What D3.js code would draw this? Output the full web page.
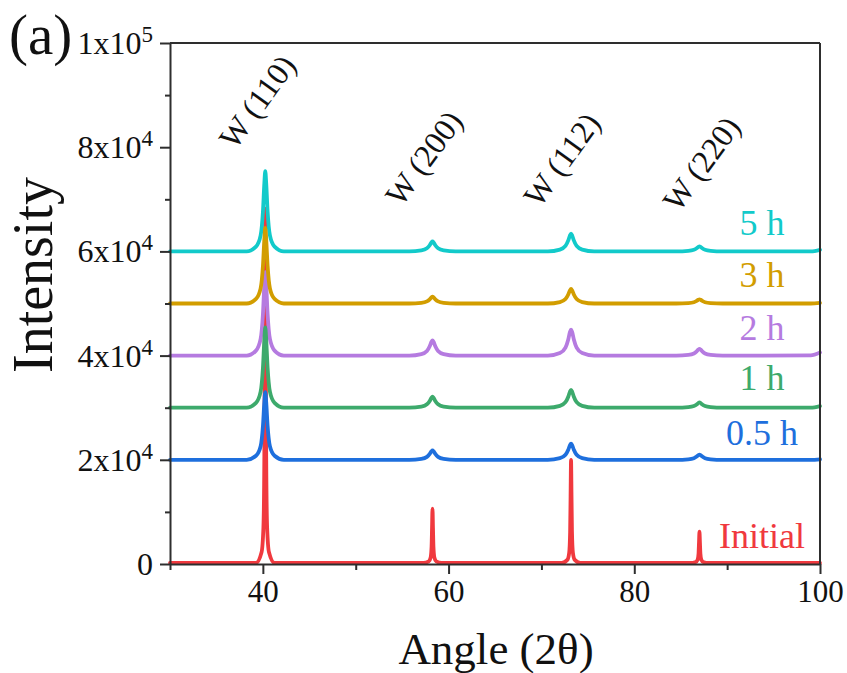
<!DOCTYPE html>
<html>
<head>
<meta charset="utf-8">
<script src="https://cdn.jsdelivr.net/npm/d3@7/dist/d3.min.js"></script>
<style>
  html, body { margin: 0; padding: 0; background: #ffffff; }
  svg { display: block; }
  text { font-family: "Liberation Serif", "Times New Roman", serif; }
</style>
</head>
<body>
<svg id="chart" width="847" height="673"></svg>
<script>
// ---- XRD patterns of W powder vs. milling time ----

// Shared 2θ sample positions for the milled patterns
const milledAngles = [
  30,
  38.26, 39.26, 39.76, 40.01, 40.16, 40.26, 40.36, 40.51, 40.76, 41.26, 42.26,
  55.77, 57.07, 57.67, 57.97, 58.15, 58.27, 58.39, 58.57, 58.87, 59.47, 60.77,
  70.69, 71.99, 72.59, 72.89, 73.07, 73.19, 73.31, 73.49, 73.79, 74.39, 75.69,
  84.52, 85.82, 86.42, 86.72, 86.90, 87.02, 87.14, 87.32, 87.62, 88.22, 89.52,
  99, 100
];

// Intensities (stacked, with vertical offsets already included)
const intensity5h = [
  60000,
  60000, 60920, 63080, 67700, 73090, 75400, 73090, 67700, 63080, 60920, 60000,
  60000, 60190, 60590, 61180, 61710, 61900, 61710, 61180, 60590, 60190, 60000,
  60000, 60340, 61050, 62110, 63060, 63400, 63060, 62110, 61050, 60340, 60000,
  60000, 60100, 60300, 60590, 60860, 60950, 60860, 60590, 60300, 60100, 60000,
  60000, 60300
];
const intensity3h = [
  50000,
  50000, 50870, 52900, 57250, 62330, 64500, 62330, 57250, 52900, 50870, 50000,
  50000, 50130, 50400, 50810, 51170, 51300, 51170, 50810, 50400, 50130, 50000,
  50000, 50280, 50870, 51740, 52520, 52800, 52520, 51740, 50870, 50280, 50000,
  50000, 50080, 50250, 50500, 50720, 50800, 50720, 50500, 50250, 50080, 50000,
  50000, 50100
];
const intensity2h = [
  40000,
  40000, 40960, 43200, 48000, 53600, 56000, 53600, 48000, 43200, 40960, 40000,
  40000, 40290, 40900, 41800, 42610, 42900, 42610, 41800, 40900, 40290, 40000,
  40000, 40500, 41550, 43100, 44500, 45000, 44500, 43100, 41550, 40500, 40000,
  40000, 40130, 40400, 40810, 41170, 41300, 41170, 40810, 40400, 40130, 40000,
  40050, 40600
];
const intensity1h = [
  30000,
  30000, 30920, 33080, 37700, 43090, 45400, 43090, 37700, 33080, 30920, 30000,
  30000, 30210, 30650, 31300, 31890, 32100, 31890, 31300, 30650, 30210, 30000,
  30000, 30340, 31050, 32110, 33060, 33400, 33060, 32110, 31050, 30340, 30000,
  30000, 30100, 30310, 30620, 30900, 31000, 30900, 30620, 30310, 30100, 30000,
  30000, 30300
];
const intensity05h = [
  20000,
  20000, 20780, 22600, 26500, 31050, 33000, 31050, 26500, 22600, 20780, 20000,
  20000, 20180, 20560, 21120, 21620, 21800, 21620, 21120, 20560, 20180, 20000,
  20000, 20310, 20960, 21920, 22790, 23100, 22790, 21920, 20960, 20310, 20000,
  20000, 20100, 20310, 20620, 20900, 21000, 20900, 20620, 20310, 20100, 20000,
  20000, 20100
];

// Initial (unmilled) powder: sharp reflections
const initialAngles = [
  30,
  39.26, 39.86, 40.06, 40.16, 40.21, 40.26, 40.31, 40.36, 40.46, 40.66, 41.26,
  57.27, 57.87, 58.07, 58.17, 58.22, 58.27, 58.32, 58.37, 58.47, 58.67, 59.27,
  72.19, 72.79, 72.99, 73.09, 73.14, 73.19, 73.24, 73.29, 73.39, 73.59, 74.19,
  86.02, 86.62, 86.82, 86.92, 86.97, 87.02, 87.07, 87.12, 87.22, 87.42, 88.02,
  100
];
const intensityInitial = [
  200,
  200, 2240, 7000, 20600, 44400, 68200, 44400, 20600, 7000, 2240, 200,
  200, 510, 1240, 3320, 6960, 10600, 6960, 3320, 1240, 510, 200,
  200, 790, 2180, 6140, 13070, 20000, 13070, 6140, 2180, 790, 200,
  200, 380, 800, 2000, 4100, 6200, 4100, 2000, 800, 380, 200,
  200
];

// Series in drawing order (first = bottom layer), colours and label anchors
const seriesNames   = ["Initial", "5 h", "2 h", "3 h", "1 h", "0.5 h"];
const seriesColors  = ["#F0393E", "#12CACA", "#B57BE0", "#D29D00", "#3DAA6C", "#1E6FDD"];
const labelAngle    = 93.75;
const labelLevels   = [3070, 63150, 43000, 53170, 33400, 22840];

// Reflection labels
const hklLabels  = ["W (110)", "W (200)", "W (112)", "W (220)"];
const hklAngles  = [37.0, 54.9, 69.8, 84.8];
const hklLevels  = [79300, 68400, 68200, 67300];

// Axis ticks
const xMajorTicks = [40, 60, 80, 100];
const xMinorTicks = [30, 50, 70, 90];
const yMajorTicks = [0, 20000, 40000, 60000, 80000, 100000];
const yMinorTicks = [10000, 30000, 50000, 70000, 90000];
const yTickLabels = ["0", "2x10^4", "4x10^4", "6x10^4", "8x10^4", "1x10^5"];

const seriesX = [initialAngles, milledAngles, milledAngles, milledAngles, milledAngles, milledAngles];
const seriesY = [intensityInitial, intensity5h, intensity2h, intensity3h, intensity1h, intensity05h];

const svg = d3.select("#chart");
const x = d3.scaleLinear().domain([30, 100]).range([170, 820]);
const y = d3.scaleLinear().domain([0, 100000]).range([564, 43]);
const axisColor = "#2e2e2e";

// Traces
const line = d3.line()
  .x(d => x(d[0]))
  .y(d => y(d[1]))
  .curve(d3.curveMonotoneX);

seriesNames.forEach((name, i) => {
  const pts = seriesX[i].map((a, k) => [a, seriesY[i][k]]);
  svg.append("path")
    .datum(pts)
    .attr("d", line)
    .attr("fill", "none")
    .attr("stroke", seriesColors[i])
    .attr("stroke-width", 3.8)
    .attr("stroke-linejoin", "round")
    .attr("stroke-linecap", "round");
});

// Frame: top and right border
svg.append("line").attr("x1", x(30)).attr("x2", x(100)).attr("y1", y(100000)).attr("y2", y(100000))
  .attr("stroke", axisColor).attr("stroke-width", 2);
svg.append("line").attr("x1", x(100)).attr("x2", x(100)).attr("y1", y(100000)).attr("y2", y(0))
  .attr("stroke", axisColor).attr("stroke-width", 2);

// Bottom axis
const xAxis = svg.append("g").attr("transform", `translate(0,${y(0)})`)
  .call(d3.axisBottom(x).tickValues(xMajorTicks).tickSize(10).tickSizeOuter(0).tickPadding(6).tickFormat(d3.format("d")));
svg.append("g").attr("transform", `translate(0,${y(0)})`)
  .call(d3.axisBottom(x).tickValues(xMinorTicks).tickSize(6).tickSizeOuter(0).tickFormat(""))
  .select(".domain").remove();

// Left axis
svg.append("g").attr("transform", `translate(${x(30)},0)`)
  .call(d3.axisLeft(y).tickValues(yMajorTicks).tickSize(10).tickSizeOuter(0).tickFormat(""));
svg.append("g").attr("transform", `translate(${x(30)},0)`)
  .call(d3.axisLeft(y).tickValues(yMinorTicks).tickSize(5).tickSizeOuter(0).tickFormat(""))
  .select(".domain").remove();

svg.selectAll(".domain, .tick line").attr("stroke", axisColor).attr("stroke-width", 2);
xAxis.selectAll(".tick text")
  .attr("font-size", 31)
  .attr("fill", "#111");

// Y tick labels with superscript exponents
yMajorTicks.forEach((v, i) => {
  const parts = yTickLabels[i].split("^");
  const t = svg.append("text")
    .attr("x", 153)
    .attr("y", y(v) + 11)
    .attr("text-anchor", "end")
    .attr("font-size", 32)
    .attr("fill", "#111");
  t.append("tspan").text(parts[0]);
  if (parts.length > 1) {
    t.append("tspan").attr("font-size", 23).attr("dy", -12).text(parts[1]);
  }
});

// Axis titles
svg.append("text")
  .attr("x", 496).attr("y", 664)
  .attr("text-anchor", "middle")
  .attr("font-size", 45)
  .attr("fill", "#111")
  .text("Angle (2θ)");
svg.append("text")
  .attr("transform", "translate(52,275) rotate(-90)")
  .attr("text-anchor", "middle")
  .attr("font-size", 56)
  .attr("fill", "#111")
  .text("Intensity");

// Panel tag
svg.append("text")
  .attr("x", 9).attr("y", 54)
  .attr("font-size", 57)
  .attr("fill", "#111")
  .text("(a)");

// Reflection labels
hklLabels.forEach((lab, i) => {
  svg.append("text")
    .attr("transform", `translate(${x(hklAngles[i])},${y(hklLevels[i])}) rotate(-54)`)
    .attr("font-size", 32)
    .attr("fill", "#111")
    .text(lab);
});

// Series labels
seriesNames.forEach((name, i) => {
  svg.append("text")
    .attr("x", x(labelAngle))
    .attr("y", y(labelLevels[i]))
    .attr("text-anchor", "middle")
    .attr("font-size", 36)
    .attr("fill", seriesColors[i])
    .text(name);
});
</script>
</body>
</html>
